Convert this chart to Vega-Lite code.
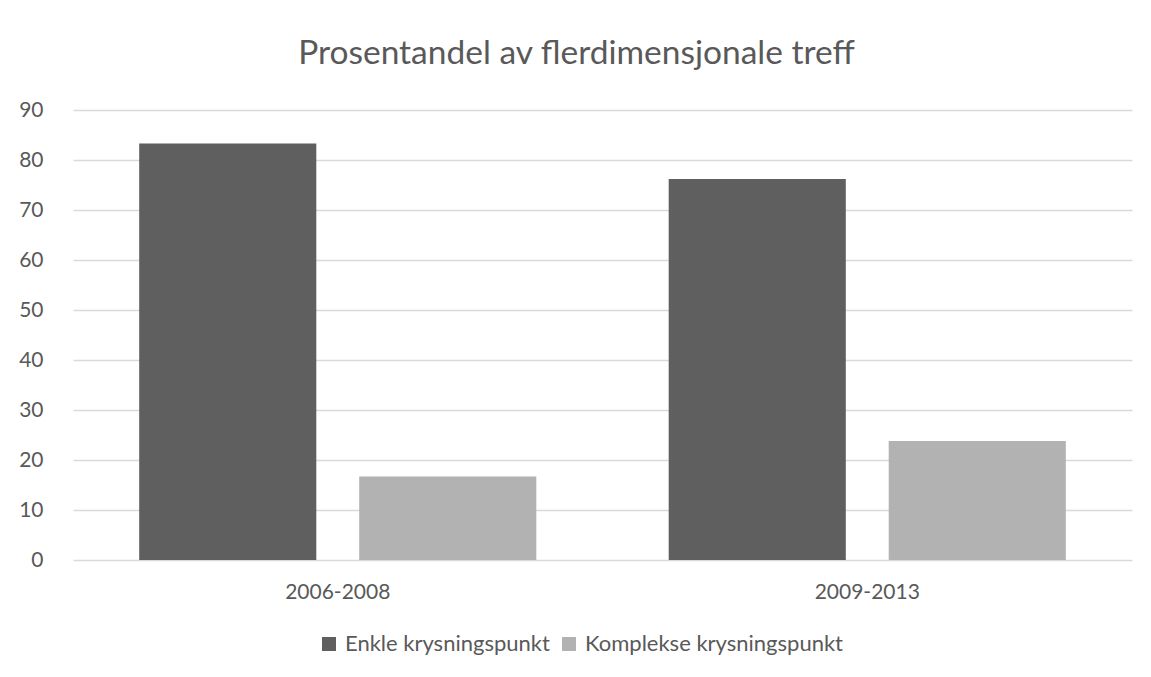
{
  "$schema": "https://vega.github.io/schema/vega-lite/v6.json",
  "width": 1059,
  "height": 450,
  "autosize": "none",
  "padding": {"left": 73, "top": 110, "right": 19, "bottom": 117},
  "background": "white",
  "title": {
    "text": "Prosentandel av flerdimensjonale treff",
    "font": "Lato",
    "fontSize": 33.5,
    "fontWeight": "normal",
    "color": "#595959",
    "anchor": "middle",
    "baseline": "alphabetic",
    "dx": -26,
    "offset": 2
  },
  "data": {
    "values": [
      {"periode": "2006-2008", "type": "Enkle krysningspunkt", "verdi": 83.3},
      {"periode": "2006-2008", "type": "Komplekse krysningspunkt", "verdi": 16.7},
      {"periode": "2009-2013", "type": "Enkle krysningspunkt", "verdi": 76.2},
      {"periode": "2009-2013", "type": "Komplekse krysningspunkt", "verdi": 23.8}
    ]
  },
  "mark": {"type": "bar"},
  "encoding": {
    "x": {
      "field": "periode",
      "type": "nominal",
      "scale": {"paddingInner": 0.25, "paddingOuter": 0.125},
      "axis": {
        "title": null,
        "labelAngle": 0,
        "domain": false,
        "ticks": false,
        "labelFont": "Lato",
        "labelFontSize": 21,
        "labelColor": "#595959",
        "labelPadding": 21
      }
    },
    "xOffset": {
      "field": "type",
      "type": "nominal",
      "sort": ["Enkle krysningspunkt", "Komplekse krysningspunkt"],
      "scale": {"paddingInner": 0.195, "paddingOuter": 0}
    },
    "y": {
      "field": "verdi",
      "type": "quantitative",
      "scale": {"domain": [0, 90]},
      "axis": {
        "title": null,
        "values": [0, 10, 20, 30, 40, 50, 60, 70, 80, 90],
        "domain": false,
        "ticks": false,
        "grid": true,
        "gridColor": "#d9d9d9",
        "gridWidth": 1.3,
        "labelFont": "Lato",
        "labelFontSize": 21,
        "labelColor": "#595959",
        "labelPadding": 30
      }
    },
    "color": {
      "field": "type",
      "type": "nominal",
      "sort": ["Enkle krysningspunkt", "Komplekse krysningspunkt"],
      "scale": {"range": ["#5f5f5f", "#b2b2b2"]},
      "legend": {
        "title": null,
        "orient": "none",
        "direction": "horizontal",
        "legendX": 245,
        "legendY": 523,
        "symbolType": "square",
        "symbolSize": 196,
        "symbolStrokeWidth": 0,
        "labelFont": "Lato",
        "labelFontSize": 22,
        "labelColor": "#595959",
        "labelOffset": 5,
        "labelLimit": 0,
        "columnPadding": 8
      }
    }
  },
  "config": {"view": {"stroke": null}}
}
